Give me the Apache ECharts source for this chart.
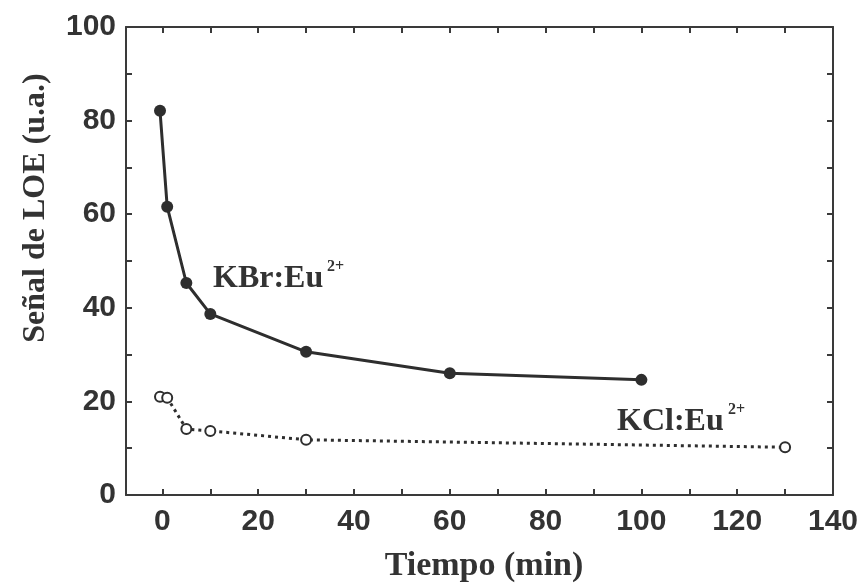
<!DOCTYPE html>
<html>
<head>
<meta charset="utf-8">
<script src="https://cdn.jsdelivr.net/npm/echarts@6/dist/echarts.min.js"></script>
<style>html,body{margin:0;padding:0;background:#fff}#c{width:865px;height:586px}</style>
</head>
<body>
<div id="c"></div>
<script>
// Data
var kbrTime   = [-0.5, 1, 5, 10, 30, 60, 100];
var kbrSignal = [82.1, 61.6, 45.3, 38.7, 30.6, 26.0, 24.6];
var kclTime   = [-0.5, 1, 5, 10, 30, 130];
var kclSignal = [21.0, 20.8, 14.1, 13.7, 11.8, 10.2];
var xTickLabels = [0, 20, 40, 60, 80, 100, 120, 140];
var yTickLabels = [0, 20, 40, 60, 80, 100];

var ink = '#333333';
var lineStyleAxis = {color: '#3a3a3a', width: 2};
var tickFont = {fontFamily: 'Liberation Sans', fontWeight: 'bold', fontSize: 30, color: ink};

function pairs(xs, ys){ return xs.map(function(x,i){ return [x, ys[i]]; }); }

var chart = echarts.init(document.getElementById('c'), null, {renderer: 'canvas'});
var option = {
  animation: false,
  backgroundColor: '#fff',
  grid: [
    {left: 126, right: 32, top: 27, bottom: 91},
    {left: 162.4, right: 32, top: 27, bottom: 91}
  ],
  xAxis: [
    {gridIndex: 0, type: 'value', min: -7.6, max: 140, position: 'bottom',
     axisLine: {show: true, onZero: false, lineStyle: lineStyleAxis}, axisTick: {show: false},
     axisLabel: {show: false}, splitLine: {show: false}},
    {gridIndex: 0, type: 'value', min: -7.6, max: 140, position: 'top',
     axisLine: {show: true, onZero: false, lineStyle: lineStyleAxis}, axisTick: {show: false},
     axisLabel: {show: false}, splitLine: {show: false}},
    {gridIndex: 1, type: 'value', min: 0, max: 140, interval: 10, position: 'bottom',
     axisLine: {show: false, onZero: false}, axisTick: {show: true, inside: true, length: 6, lineStyle: lineStyleAxis},
     axisLabel: Object.assign({margin: 12, showMinLabel: true, showMaxLabel: true,
       formatter: function(v){ return xTickLabels.indexOf(Math.round(v)) >= 0 ? String(Math.round(v)) : ''; }}, tickFont),
     splitLine: {show: false}},
    {gridIndex: 1, type: 'value', min: 0, max: 140, interval: 10, position: 'top',
     axisLine: {show: false, onZero: false}, axisTick: {show: true, inside: true, length: 6, lineStyle: lineStyleAxis},
     axisLabel: {show: false}, splitLine: {show: false}}
  ],
  yAxis: [
    {gridIndex: 0, type: 'value', min: 0, max: 100, interval: 10, position: 'left',
     axisLine: {show: true, onZero: false, lineStyle: lineStyleAxis},
     axisTick: {show: true, inside: true, length: 6, lineStyle: lineStyleAxis},
     axisLabel: Object.assign({margin: 10, showMinLabel: true, showMaxLabel: true,
       formatter: function(v){ return yTickLabels.indexOf(Math.round(v)) >= 0 ? String(Math.round(v)) : ''; }}, tickFont),
     splitLine: {show: false}},
    {gridIndex: 0, type: 'value', min: 0, max: 100, interval: 10, position: 'right',
     axisLine: {show: true, onZero: false, lineStyle: lineStyleAxis},
     axisTick: {show: true, inside: true, length: 6, lineStyle: lineStyleAxis},
     axisLabel: {show: false}, splitLine: {show: false}},
    {gridIndex: 1, type: 'value', min: 0, max: 100, show: false}
  ],
  series: [
    {name: 'KBr:Eu2+', type: 'line', xAxisIndex: 0, yAxisIndex: 0,
     data: pairs(kbrTime, kbrSignal),
     symbol: 'circle', symbolSize: 12,
     itemStyle: {color: '#2e2e2e'},
     lineStyle: {color: '#2e2e2e', width: 3}},
    {name: 'KCl:Eu2+', type: 'line', xAxisIndex: 0, yAxisIndex: 0,
     data: pairs(kclTime, kclSignal),
     symbol: 'emptyCircle', symbolSize: 10,
     itemStyle: {color: '#2e2e2e', borderWidth: 3.5},
     lineStyle: {color: '#2e2e2e', width: 3, type: [3, 4]}}
  ],
  graphic: [
    {type: 'text', x: 36, y: 208, rotation: Math.PI/2,
     style: {text: 'Señal de LOE (u.a.)', x: 0, y: 0, font: 'bold 32px "Liberation Serif"', fill: ink,
             textAlign: 'center', textVerticalAlign: 'middle'}},
    {type: 'text', x: 484, y: 566,
     style: {text: 'Tiempo (min)', x: 0, y: 0, font: 'bold 34px "Liberation Serif"', fill: ink,
             textAlign: 'center', textVerticalAlign: 'middle'}},
    {type: 'text', x: 213, y: 295,
     style: {text: 'KBr:Eu', x: 0, y: 0, font: 'bold 32px "Liberation Serif"', fill: ink,
             textAlign: 'left', textVerticalAlign: 'bottom'}},
    {type: 'text', x: 327, y: 275,
     style: {text: '2+', x: 0, y: 0, font: 'bold 16px "Liberation Serif"', fill: ink,
             textAlign: 'left', textVerticalAlign: 'bottom'}},
    {type: 'text', x: 617, y: 438,
     style: {text: 'KCl:Eu', x: 0, y: 0, font: 'bold 32px "Liberation Serif"', fill: ink,
             textAlign: 'left', textVerticalAlign: 'bottom'}},
    {type: 'text', x: 728, y: 418,
     style: {text: '2+', x: 0, y: 0, font: 'bold 16px "Liberation Serif"', fill: ink,
             textAlign: 'left', textVerticalAlign: 'bottom'}}
  ]
};
chart.setOption(option);
</script>
</body>
</html>
